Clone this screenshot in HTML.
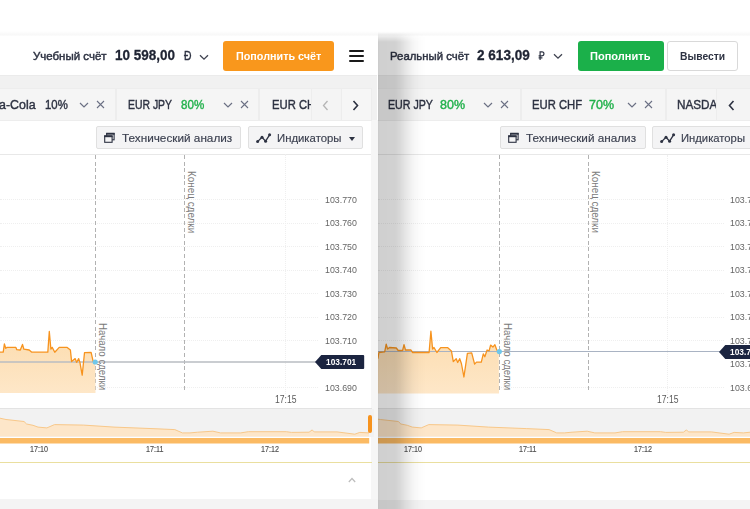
<!DOCTYPE html>
<html lang="ru">
<head>
<meta charset="utf-8">
<title>Trading accounts</title>
<style>
*{box-sizing:border-box;margin:0;padding:0}
html,body{width:750px;height:509px;overflow:hidden;background:#fff}
body{position:relative;font-family:"Liberation Sans",sans-serif;color:#2b3040}
.a{position:absolute}
.t{position:absolute;white-space:nowrap;line-height:1}
.panel{position:absolute;top:0;height:509px;overflow:hidden;background:#fff}
#L{left:0;width:378px}
#R{left:378px;width:372px}
.hdr{position:absolute;left:0;right:0;top:36px;height:39px;background:#fff}
.tabbar{position:absolute;left:0;right:0;top:75px;height:45px;background:#f1f1f1;border-top:1px solid #ebebeb}
.tab{position:absolute;top:13px;height:31px;background:#f5f5f5;box-shadow:0 0 0 1px #ededed}
.tool{position:absolute;top:126px;height:22.5px;border:1px solid #e0e0e0;background:#f4f4f5;border-radius:2px}
.sep{position:absolute;left:0;right:0;top:153px;height:1px;background:#e8e8e8}
.gl{position:absolute;left:0;height:0;border-top:1px dotted #efefef}
.yl{font-size:9.5px;color:#666;transform:scaleX(.93)}
.xl{font-size:10px;color:#5a5a5a;transform:scaleX(.86)}
.ml{font-size:8.2px;color:#505050;transform:scaleX(.875);-webkit-text-stroke:.15px #505050}
.btn{position:absolute;top:41px;height:30px;border-radius:3px;color:#fff;font-weight:bold;font-size:12px;text-align:center;line-height:30px;white-space:nowrap}
.bt{font-size:11.5px;font-weight:bold}
.t,.vt{transform-origin:0 0}
.lab{font-size:12px;font-weight:normal;color:#2d3242;-webkit-text-stroke:.45px #2d3242}
.bal{font-size:15px;font-weight:bold;color:#1f2433;-webkit-text-stroke:.3px #1f2433}
.cur{-webkit-text-stroke:.4px #2d3242}
.tn{font-size:14px;color:#2d3242;-webkit-text-stroke:.4px #2d3242}
.pct{font-size:14px;color:#2d3242;-webkit-text-stroke:.4px}
.g{color:#22b14c}
.tl{font-size:11px;color:#3c4150;-webkit-text-stroke:.15px #3c4150}
.vt{position:absolute;white-space:nowrap;font-size:10px;color:#7a7a7a;transform-origin:0 0;transform:rotate(90deg);line-height:1}
.foot{position:absolute;left:0;right:0;top:498.5px;height:11px;background:#f4f4f4}
</style>
</head>
<body>

<!-- ================= LEFT PANEL ================= -->
<div class="panel" id="L">
  <div class="a" style="left:371px;top:120px;width:7px;height:389px;background:#f6f6f6"></div>
  <div class="a" style="left:0;right:0;top:31px;height:6px;background:linear-gradient(#fff,#f8f8f8 60%,#fff)"></div>
  <div class="hdr"></div>
  <span class="t lab" id="l_lab" style="left:33.3px;top:50.6px;font-size:11.5px;transform:scaleX(0.999)">Учебный счёт</span>
  <span class="t bal" id="l_bal" style="left:115.2px;top:48.2px;font-size:14.6px;transform:scaleX(0.924)">10 598,00</span>
  <span class="t cur" id="l_cur" style="left:184.0px;top:49.3px;font-size:13px;color:#2d3242;transform:scaleX(0.799)">Đ</span>
  <svg class="a" style="left:198px;top:52.8px" width="12" height="8" viewBox="0 0 12 8"><path d="M2 2.2 L6 6.2 L10 2.2" fill="none" stroke="#3f4350" stroke-width="1.3"/></svg>
  <div class="btn" style="left:223px;width:111px;background:#f9971c"></div>
  <span class="t bt" id="l_btn" style="left:235.9px;top:50.6px;color:#fff;font-size:11.5px;transform:scaleX(0.937)">Пополнить счёт</span>
  <div class="a" style="left:348.7px;top:50.4px;width:15.7px;height:2px;background:#1a1a1a;border-radius:1px"></div>
  <div class="a" style="left:348.7px;top:54.9px;width:15.7px;height:2px;background:#1a1a1a;border-radius:1px"></div>
  <div class="a" style="left:348.7px;top:59.5px;width:15.7px;height:2px;background:#1a1a1a;border-radius:1px"></div>

  <div class="tabbar" style="right:1.5px">
    <div class="tab" style="left:0;width:115px"></div>
    <div class="tab" style="left:117px;width:141px"></div>
    <div class="tab" style="left:260px;width:52px"></div>
    <div class="tab" style="left:312px;width:29px;background:#f4f4f4"></div>
    <div class="tab" style="left:342px;width:29px;background:#f6f6f6"></div>
  </div>
  <span class="t tn" id="l_t1" style="left:-0.6px;top:99.1px;font-size:12.3px;transform:scaleX(1.010)">a-Cola</span>
  <span class="t pct" id="l_p1" style="left:45.3px;top:99.1px;font-size:12.3px;transform:scaleX(0.926)">10%</span>
  <svg class="a" style="left:79px;top:102px" width="10" height="7" viewBox="0 0 10 7"><path d="M1 1 L5 5 L9 1" fill="none" stroke="#6b7084" stroke-width="1.2"/></svg>
  <svg class="a" style="left:96px;top:100px" width="9" height="9" viewBox="0 0 9 9"><path d="M1 1 L8 8 M8 1 L1 8" fill="none" stroke="#6b7084" stroke-width="1.1"/></svg>
  <span class="t tn" id="l_t2" style="left:128.2px;top:99.1px;font-size:12.3px;transform:scaleX(0.847)">EUR JPY</span>
  <span class="t pct g" id="l_p2" style="left:180.6px;top:99.1px;font-size:12.3px;transform:scaleX(0.942)">80%</span>
  <svg class="a" style="left:223px;top:102px" width="10" height="7" viewBox="0 0 10 7"><path d="M1 1 L5 5 L9 1" fill="none" stroke="#6b7084" stroke-width="1.2"/></svg>
  <svg class="a" style="left:240px;top:100px" width="9" height="9" viewBox="0 0 9 9"><path d="M1 1 L8 8 M8 1 L1 8" fill="none" stroke="#6b7084" stroke-width="1.1"/></svg>
  <div class="a" style="left:270px;top:95px;width:41px;height:20px;overflow:hidden"><span class="t tn" id="l_t3" style="left:2.3px;top:4.1px;font-size:12.3px;transform:scaleX(0.915)">EUR CHF</span></div>
  <svg class="a" style="left:322px;top:100px" width="7" height="11" viewBox="0 0 7 11"><path d="M5.5 1 L1.5 5.5 L5.5 10" fill="none" stroke="#b5b5b5" stroke-width="1.3"/></svg>
  <svg class="a" style="left:352px;top:100px" width="7" height="11" viewBox="0 0 7 11"><path d="M1.5 1 L5.5 5.5 L1.5 10" fill="none" stroke="#2d3242" stroke-width="1.6"/></svg>

  <div class="tool" style="left:96px;width:145px"></div>
  <svg class="a" style="left:104px;top:132px" width="11" height="11" viewBox="0 0 11 11"><rect x="2.7" y="1.4" width="7.4" height="6.4" fill="none" stroke="#2d3242" stroke-width="1.1"/><rect x="2.2" y="0.9" width="8.4" height="1.8" fill="#2d3242"/><rect x="0.7" y="3.9" width="7.4" height="6.4" fill="#f4f4f5" stroke="#2d3242" stroke-width="1.1"/><rect x="0.2" y="3.4" width="8.4" height="1.8" fill="#2d3242"/></svg>
  <span class="t tl" id="l_ta" style="left:122.3px;top:132.5px;font-size:11px;transform:scaleX(1.069)">Технический анализ</span>
  <div class="tool" style="left:248px;width:115px"></div>
  <svg class="a" style="left:256px;top:132px" width="16" height="12" viewBox="0 0 16 12"><path d="M1.6 9.6 L6 5.2 L9.6 9.2 L13.6 2.8" fill="none" stroke="#2d3242" stroke-width="1.3"/><circle cx="1.6" cy="9.6" r="1.5" fill="#2d3242"/><circle cx="6" cy="5.2" r="1.5" fill="#2d3242"/><circle cx="9.6" cy="9.2" r="1.5" fill="#2d3242"/><circle cx="13.6" cy="2.8" r="1.5" fill="#2d3242"/></svg>
  <span class="t tl" id="l_in" style="left:277.0px;top:132.5px;font-size:11px;transform:scaleX(1.031)">Индикаторы</span>
  <div class="a" style="left:349px;top:137px;width:0;height:0;border-left:3.5px solid transparent;border-right:3.5px solid transparent;border-top:4px solid #2d3242"></div>
  <div class="sep" style="right:7px;top:153.5px"></div>

  <!-- chart -->
  <div class="gl" style="top:199px;width:318px"></div>
  <div class="gl" style="top:223px;width:318px"></div>
  <div class="gl" style="top:246px;width:318px"></div>
  <div class="gl" style="top:270px;width:318px"></div>
  <div class="gl" style="top:293px;width:318px"></div>
  <div class="gl" style="top:317px;width:318px"></div>
  <div class="gl" style="top:340px;width:318px"></div>
  <div class="gl" style="top:387px;width:318px"></div>
  <div class="a" style="left:285px;top:154px;width:0;height:240px;border-left:1px dotted #efefef"></div>
  <div class="a" style="left:95px;top:155px;width:1px;height:238px;background:repeating-linear-gradient(180deg,#b2b2b2 0,#b2b2b2 4px,transparent 4px,transparent 6.6px)"></div>
  <div class="a" style="left:184px;top:155px;width:1px;height:238px;background:repeating-linear-gradient(180deg,#b2b2b2 0,#b2b2b2 4px,transparent 4px,transparent 6.6px)"></div>
  <svg class="a" style="left:0;top:320px" width="372" height="80" viewBox="0 320 372 80">
    <defs><linearGradient id="lg1" x1="0" y1="0" x2="0" y2="1"><stop offset="0" stop-color="#fcdcae"/><stop offset="1" stop-color="#fee7c8"/></linearGradient></defs>
    <path d="M0 352.2 L3.2 352.2 L4.4 343.9 L5.7 348.3 L7.1 347.4 L15.9 347.4 L16.8 349.7 L20.3 350 L22.5 344.4 L23.9 349.2 L29.2 350 L31.8 352.2 L47.8 352.2 L49.3 331.5 L50.9 349.2 L52.2 347.4 L54.8 352.2 L59.2 347.4 L67.2 347.4 L70.4 350 L71.6 361.6 L75.2 358.6 L76.6 362.4 L78.7 358.6 L79.9 362.4 L82.2 375.2 L84.5 352.7 L91.1 352.4 L93.2 361.6 L95.2 362 L95.5 393 L0 393 Z" fill="url(#lg1)"/>
    <path d="M0 362 H316" stroke="#b9bcc2" stroke-width="1.3" fill="none"/>
    <path d="M0 352.2 L3.2 352.2 L4.4 343.9 L5.7 348.3 L7.1 347.4 L15.9 347.4 L16.8 349.7 L20.3 350 L22.5 344.4 L23.9 349.2 L29.2 350 L31.8 352.2 L47.8 352.2 L49.3 331.5 L50.9 349.2 L52.2 347.4 L54.8 352.2 L59.2 347.4 L67.2 347.4 L70.4 350 L71.6 361.6 L75.2 358.6 L76.6 362.4 L78.7 358.6 L79.9 362.4 L82.2 375.2 L84.5 352.7 L91.1 352.4 L93.2 361.6 L95.2 362" fill="none" stroke="#f7931e" stroke-width="1.3" stroke-linejoin="round"/>
    <circle cx="95.2" cy="362" r="2.6" fill="#6fc7ea"/>
  </svg>
  <span class="vt" id="l_v1" style="left:106.8px;top:322.7px;transform:rotate(90deg) scaleX(.967)">Начало сделки</span>
  <span class="vt" id="l_v2" style="left:196.1px;top:170.6px;transform:rotate(90deg) scaleX(.99)">Конец сделки</span>

  <span class="t yl" style="left:325.3px;top:194.5px">103.770</span>
  <span class="t yl" style="left:325.3px;top:218.0px">103.760</span>
  <span class="t yl" style="left:325.3px;top:241.6px">103.750</span>
  <span class="t yl" style="left:325.3px;top:265.1px">103.740</span>
  <span class="t yl" style="left:325.3px;top:288.7px">103.730</span>
  <span class="t yl" style="left:325.3px;top:312.2px">103.720</span>
  <span class="t yl" style="left:325.3px;top:335.8px">103.710</span>
  <span class="t yl" style="left:325.3px;top:382.9px">103.690</span>
  <svg class="a" style="left:314.8px;top:354.8px" width="50" height="14" viewBox="0 0 50 14"><path d="M0 7 L6.3 0 H48.2 a1 1 0 0 1 1 1 V13 a1 1 0 0 1 -1 1 H6.3 Z" fill="#1b2440"/></svg>
  <span class="t" id="l_pr" style="left:326.3px;top:357.7px;font-size:9px;font-weight:bold;color:#fff;transform:scaleX(0.928)">103.701</span>
  <span class="t xl" style="left:274.7px;top:394.6px">17:15</span>

  <!-- mini chart -->
  <div class="a" style="left:0;top:408px;width:372px;height:1px;background:#e3e3e3"></div>
  <div class="a" style="left:0;top:409px;width:374px;height:27.5px;background:#f2f2f2"></div>
  <svg class="a" style="left:0;top:409px" width="372" height="36" viewBox="0 409 372 36">
    <path d="M0 418.2 L6 419.5 L24 421.5 L26.6 424 L33 425.3 L38 427.1 L46.9 427.9 L54.5 424.6 L83.6 425.1 L114 427.1 L152 428.6 L174.8 429.6 L182.4 432.9 L190 432.9 L197.7 432.2 L212.9 431.2 L220.5 432.9 L240.7 432.9 L248.3 431.7 L286.3 431.7 L291.4 432.4 L309.1 432.2 L312.2 429.9 L314.2 431.9 L337 431.9 L354.8 434.2 L359.8 432.4 L369 432.9 L369 436.5 L0 436.5 Z" fill="#fde6c9"/>
    <path d="M0 418.2 L6 419.5 L24 421.5 L26.6 424 L33 425.3 L38 427.1 L46.9 427.9 L54.5 424.6 L83.6 425.1 L114 427.1 L152 428.6 L174.8 429.6 L182.4 432.9 L190 432.9 L197.7 432.2 L212.9 431.2 L220.5 432.9 L240.7 432.9 L248.3 431.7 L286.3 431.7 L291.4 432.4 L309.1 432.2 L312.2 429.9 L314.2 431.9 L337 431.9 L354.8 434.2 L359.8 432.4 L369 432.9" fill="none" stroke="#f8c88a" stroke-width="1"/>
    <rect x="0" y="438" width="369.2" height="5.5" fill="#fbba63"/>
  </svg>
  <div class="a" style="left:368px;top:414.5px;width:4px;height:18px;background:#f7931e;border-radius:2px"></div>
  <span class="t ml" style="left:30.4px;top:446px">17:10</span>
  <span class="t ml" style="left:145.7px;top:446px">17:11</span>
  <span class="t ml" style="left:261.0px;top:446px">17:12</span>
  <div class="a" style="left:0;top:461.5px;width:372px;height:1.6px;background:#eadf9f"></div>
  <svg class="a" style="left:347.5px;top:476.5px" width="8" height="6" viewBox="0 0 8 6"><path d="M0.8 5 L4 1.5 L7.2 5" fill="none" stroke="#bdbdbd" stroke-width="1.2"/></svg>
  <div class="foot"></div>
</div>

<!-- ================= RIGHT PANEL ================= -->
<div class="panel" id="R">
  <div class="a" style="left:0;right:0;top:31px;height:6px;background:linear-gradient(#fff,#f8f8f8 60%,#fff)"></div>
  <div class="hdr"></div>
  <span class="t lab" id="r_lab" style="left:12.1px;top:50.6px;font-size:11.5px;transform:scaleX(0.988)">Реальный счёт</span>
  <span class="t bal" id="r_bal" style="left:98.5px;top:48.2px;font-size:14.6px;transform:scaleX(0.929)">2 613,09</span>
  <svg class="a" style="left:160px;top:50.6px" width="8" height="10" viewBox="0 0 8 10"><path d="M2.1 9 V0.9 H4 A1.95 1.95 0 0 1 4 4.8 H0.6 M0.6 6.9 H4.4" fill="none" stroke="#2d3242" stroke-width="1.15"/></svg>
  <svg class="a" style="left:174px;top:52.3px" width="12" height="8" viewBox="0 0 12 8"><path d="M2 2.2 L6 6.2 L10 2.2" fill="none" stroke="#3f4350" stroke-width="1.3"/></svg>
  <div class="btn" style="left:200px;width:86px;background:#1bb04a"></div>
  <span class="t bt" id="r_btn" style="left:212.4px;top:50.6px;color:#fff;font-size:11.5px;transform:scaleX(0.960)">Пополнить</span>
  <div class="btn" style="left:289px;width:71px;background:#fff;border:1px solid #d9d9d9"></div>
  <span class="t bt" id="r_btn2" style="left:302.4px;top:50.6px;color:#2d3242;font-size:11.5px;transform:scaleX(0.895)">Вывести</span>

  <div class="tabbar">
    <div class="tab" style="left:0;width:142px"></div>
    <div class="tab" style="left:144px;width:143px"></div>
    <div class="tab" style="left:289px;width:54px"></div>
    <div class="tab" style="left:339px;width:33px;background:#f4f4f4"></div>
  </div>
  <span class="t tn" id="r_t1" style="left:9.5px;top:99.1px;font-size:12.3px;transform:scaleX(0.866)">EUR JPY</span>
  <span class="t pct g" id="r_p1" style="left:62.0px;top:99.1px;font-size:12.3px;transform:scaleX(1.015)">80%</span>
  <svg class="a" style="left:105px;top:102px" width="10" height="7" viewBox="0 0 10 7"><path d="M1 1 L5 5 L9 1" fill="none" stroke="#6b7084" stroke-width="1.2"/></svg>
  <svg class="a" style="left:122px;top:100px" width="9" height="9" viewBox="0 0 9 9"><path d="M1 1 L8 8 M8 1 L1 8" fill="none" stroke="#6b7084" stroke-width="1.1"/></svg>
  <span class="t tn" id="r_t2" style="left:153.5px;top:99.1px;font-size:12.3px;transform:scaleX(0.915)">EUR CHF</span>
  <span class="t pct g" id="r_p2" style="left:211.0px;top:99.1px;font-size:12.3px;transform:scaleX(1.015)">70%</span>
  <svg class="a" style="left:249px;top:102px" width="10" height="7" viewBox="0 0 10 7"><path d="M1 1 L5 5 L9 1" fill="none" stroke="#6b7084" stroke-width="1.2"/></svg>
  <svg class="a" style="left:266px;top:100px" width="9" height="9" viewBox="0 0 9 9"><path d="M1 1 L8 8 M8 1 L1 8" fill="none" stroke="#6b7084" stroke-width="1.1"/></svg>
  <div class="a" style="left:296px;top:95px;width:41.5px;height:20px;overflow:hidden"><span class="t tn" id="r_t3" style="left:2.5px;top:4.1px;font-size:12.3px;transform:scaleX(0.953)">NASDAQ</span></div>
  <svg class="a" style="left:350px;top:100px" width="7" height="11" viewBox="0 0 7 11"><path d="M5.5 1 L1.5 5.5 L5.5 10" fill="none" stroke="#2d3242" stroke-width="1.6"/></svg>

  <div class="tool" style="left:122px;width:146px"></div>
  <svg class="a" style="left:130px;top:132px" width="11" height="11" viewBox="0 0 11 11"><rect x="2.7" y="1.4" width="7.4" height="6.4" fill="none" stroke="#2d3242" stroke-width="1.1"/><rect x="2.2" y="0.9" width="8.4" height="1.8" fill="#2d3242"/><rect x="0.7" y="3.9" width="7.4" height="6.4" fill="#f4f4f5" stroke="#2d3242" stroke-width="1.1"/><rect x="0.2" y="3.4" width="8.4" height="1.8" fill="#2d3242"/></svg>
  <span class="t tl" id="r_ta" style="left:148.0px;top:132.5px;font-size:11px;transform:scaleX(1.067)">Технический анализ</span>
  <div class="tool" style="left:274px;width:115px"></div>
  <svg class="a" style="left:281.5px;top:132px" width="16" height="12" viewBox="0 0 16 12"><path d="M1.6 9.6 L6 5.2 L9.6 9.2 L13.6 2.8" fill="none" stroke="#2d3242" stroke-width="1.3"/><circle cx="1.6" cy="9.6" r="1.5" fill="#2d3242"/><circle cx="6" cy="5.2" r="1.5" fill="#2d3242"/><circle cx="9.6" cy="9.2" r="1.5" fill="#2d3242"/><circle cx="13.6" cy="2.8" r="1.5" fill="#2d3242"/></svg>
  <span class="t tl" id="r_in" style="left:303.0px;top:132.5px;font-size:11px;transform:scaleX(1.023)">Индикаторы</span>
  <div class="sep" style="top:154px"></div>

  <!-- chart -->
  <div class="gl" style="top:199px;width:346px"></div>
  <div class="gl" style="top:223px;width:346px"></div>
  <div class="gl" style="top:246px;width:346px"></div>
  <div class="gl" style="top:270px;width:346px"></div>
  <div class="gl" style="top:293px;width:346px"></div>
  <div class="gl" style="top:317px;width:346px"></div>
  <div class="gl" style="top:340px;width:346px"></div>
  <div class="gl" style="top:387px;width:346px"></div>
  <div class="a" style="left:289px;top:155px;width:0;height:240px;border-left:1px dotted #efefef"></div>
  <div class="a" style="left:121px;top:155px;width:1px;height:238px;background:repeating-linear-gradient(180deg,#b2b2b2 0,#b2b2b2 4px,transparent 4px,transparent 6.6px)"></div>
  <div class="a" style="left:210px;top:155px;width:1px;height:238px;background:repeating-linear-gradient(180deg,#b2b2b2 0,#b2b2b2 4px,transparent 4px,transparent 6.6px)"></div>
  <svg class="a" style="left:0;top:320px" width="372" height="80" viewBox="378 320 372 80">
    <path d="M377.9 358.7 L378.9 352.5 L384.7 351.9 L386.2 344.2 L387.6 349 L389.5 347.5 L396.3 348 L398.2 350.5 L402.6 350.5 L404 344.7 L405.5 350 L410.8 350 L412.7 352.5 L429.1 352.5 L430.9 331.2 L432.6 349 L434 347.5 L436.9 352.5 L440.7 347.6 L447.5 347.6 L451.4 350.9 L453.3 361.6 L456.2 358.7 L457.7 362.5 L459.7 358.7 L461.4 363.5 L463.9 377 L467.4 353.3 L471.7 352.9 L474.6 364.1 L476.5 362.1 L481.3 362.1 L483.3 353.8 L484.8 356.7 L487.1 350 L489.1 350.9 L490.6 345.1 L492.9 347.1 L494.9 344.7 L496.8 350 L498.7 351.5 L499 393.5 L377.9 393.5 Z" fill="url(#lg1)"/>
    <path d="M378 351.5 H722" stroke="#a9b3c3" stroke-width="1" fill="none"/>
    <path d="M377.9 358.7 L378.9 352.5 L384.7 351.9 L386.2 344.2 L387.6 349 L389.5 347.5 L396.3 348 L398.2 350.5 L402.6 350.5 L404 344.7 L405.5 350 L410.8 350 L412.7 352.5 L429.1 352.5 L430.9 331.2 L432.6 349 L434 347.5 L436.9 352.5 L440.7 347.6 L447.5 347.6 L451.4 350.9 L453.3 361.6 L456.2 358.7 L457.7 362.5 L459.7 358.7 L461.4 363.5 L463.9 377 L467.4 353.3 L471.7 352.9 L474.6 364.1 L476.5 362.1 L481.3 362.1 L483.3 353.8 L484.8 356.7 L487.1 350 L489.1 350.9 L490.6 345.1 L492.9 347.1 L494.9 344.7 L496.8 350 L498.7 351.5" fill="none" stroke="#f7931e" stroke-width="1.3" stroke-linejoin="round"/>
    <circle cx="499.3" cy="351.6" r="2.6" fill="#6fc7ea"/>
  </svg>
  <span class="vt" id="r_v1" style="left:133.5px;top:322.9px;transform:rotate(90deg) scaleX(.967)">Начало сделки</span>
  <span class="vt" id="r_v2" style="left:221.9px;top:171px;transform:rotate(90deg) scaleX(.985)">Конец сделки</span>

  <span class="t yl" style="left:351.9px;top:194.5px">103.770</span>
  <span class="t yl" style="left:351.9px;top:218.0px">103.760</span>
  <span class="t yl" style="left:351.9px;top:241.6px">103.750</span>
  <span class="t yl" style="left:351.9px;top:265.1px">103.740</span>
  <span class="t yl" style="left:351.9px;top:288.7px">103.730</span>
  <span class="t yl" style="left:351.9px;top:312.2px">103.720</span>
  <span class="t yl" style="left:351.9px;top:335.8px">103.710</span>
  <span class="t yl" style="left:351.9px;top:359.3px">103.700</span>
  <span class="t yl" style="left:351.9px;top:382.9px">103.690</span>
  <svg class="a" style="left:340.9px;top:344.7px" width="50" height="14" viewBox="0 0 50 14"><path d="M0 7 L6.3 0 H48.2 a1 1 0 0 1 1 1 V13 a1 1 0 0 1 -1 1 H6.3 Z" fill="#1b2440"/></svg>
  <span class="t" id="r_pr" style="left:351.9px;top:347.5px;font-size:9px;font-weight:bold;color:#fff;transform:scaleX(0.928)">103.705</span>
  <span class="t xl" style="left:278.5px;top:394.6px">17:15</span>

  <!-- mini chart -->
  <div class="a" style="left:0;top:408px;width:372px;height:1px;background:#e3e3e3"></div>
  <div class="a" style="left:0;top:409px;width:372px;height:27.5px;background:#f2f2f2"></div>
  <svg class="a" style="left:0;top:409px" width="372" height="36" viewBox="0 409 372 36">
    <path d="M0 419.2 L2.3 419.5 L20.3 421.5 L22.9 424 L29.3 425.3 L34.3 427.1 L43.2 427.9 L50.8 424.6 L79.9 425.1 L110.3 427.1 L148.3 428.6 L171.1 429.6 L178.7 432.9 L186.3 432.9 L194 432.2 L209.2 431.2 L216.8 432.9 L237 432.9 L244.6 431.7 L282.6 431.7 L287.7 432.4 L305.4 432.2 L308.5 429.9 L310.5 431.9 L333.3 431.9 L351.1 434.2 L356.1 432.4 L365.3 432.9 L372.3 432.2 L372.3 436.5 L0 436.5 Z" fill="#fde6c9"/>
    <path d="M0 419.2 L2.3 419.5 L20.3 421.5 L22.9 424 L29.3 425.3 L34.3 427.1 L43.2 427.9 L50.8 424.6 L79.9 425.1 L110.3 427.1 L148.3 428.6 L171.1 429.6 L178.7 432.9 L186.3 432.9 L194 432.2 L209.2 431.2 L216.8 432.9 L237 432.9 L244.6 431.7 L282.6 431.7 L287.7 432.4 L305.4 432.2 L308.5 429.9 L310.5 431.9 L333.3 431.9 L351.1 434.2 L356.1 432.4 L365.3 432.9 L372.3 432.2" fill="none" stroke="#f8c88a" stroke-width="1"/>
    <rect x="0" y="438" width="372" height="5.5" fill="#fbba63"/>
  </svg>
  <span class="t ml" style="left:25.6px;top:446px">17:10</span>
  <span class="t ml" style="left:141.0px;top:446px">17:11</span>
  <span class="t ml" style="left:256.3px;top:446px">17:12</span>
  <div class="a" style="left:0;top:461.5px;width:372px;height:1.6px;background:#eadf9f"></div>
  <div class="foot" style="top:500px"></div>
  <!-- drop shadow from left panel -->
  <div class="a" style="left:0;top:32px;width:50px;height:477px;background:linear-gradient(90deg,rgba(0,0,0,.205) 0,rgba(0,0,0,.185) 2px,rgba(0,0,0,.18) 17px,rgba(0,0,0,.15) 22px,rgba(0,0,0,.10) 27px,rgba(0,0,0,.04) 35px,rgba(0,0,0,.012) 42px,rgba(0,0,0,0) 48px);-webkit-mask-image:linear-gradient(180deg,transparent 0,#000 10px);mask-image:linear-gradient(180deg,transparent 0,#000 10px)"></div>
</div>
</body>
</html>
